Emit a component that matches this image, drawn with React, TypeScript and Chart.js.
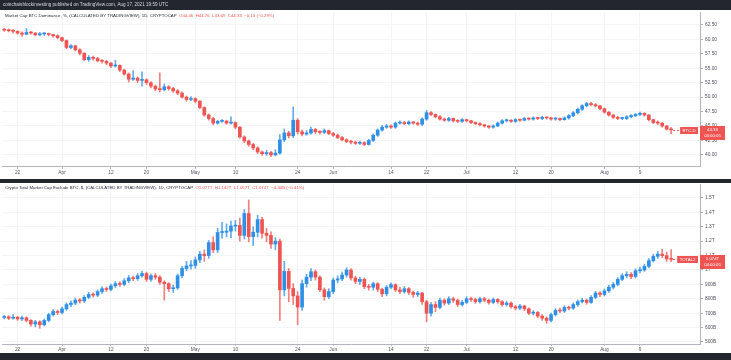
import React, { useEffect, useRef } from "react";
import { Chart, registerables } from "chart.js";
Chart.register(...registerables);

// ---------- categories (daily candles) ----------
const START_YEAR = 2021;
const START_MONTH = 2; // March (0-based)
const START_DAY = 19;
const DAY_COUNT = 157;
const CATEGORIES: string[] = Array.from({ length: DAY_COUNT }, (_, i) =>
  new Date(Date.UTC(START_YEAR, START_MONTH, START_DAY + i)).toISOString().slice(0, 10)
);
const TICK_INDEX = [3, 13, 24, 32, 43, 52, 66, 74, 87, 95, 104, 115, 123, 135, 143];
const TICK_TEXT = ["22", "Apr", "12", "20", "May", "10", "24", "Jun", "14", "22", "Jul", "12", "20", "Aug", "9"];

// ---------- Market Cap BTC Dominance, % ----------
const BTC_OPEN = [
  61.7, 61.6, 61.5, 61.4, 61.1, 60.9, 61.2, 61.1, 60.8, 60.95,
  61.0, 60.85, 60.65, 60.3, 59.8, 58.6, 58.9, 58.2, 57.6, 56.5,
  56.9, 56.7, 56.3, 56.2, 55.9, 55.4, 55.5, 54.7, 54.0, 53.1,
  53.3, 52.9, 53.0, 52.5, 51.9, 51.4, 51.3, 51.8, 51.5, 51.1,
  50.7, 50.0, 49.6, 49.75, 49.3, 48.2, 46.9, 46.3, 45.5, 45.8,
  45.85, 45.5, 45.6, 44.8, 43.1, 42.4, 41.8, 41.2, 40.5, 40.2,
  40.4, 40.0, 40.3, 42.6, 43.8, 43.3, 46.0, 44.0, 43.6, 43.8,
  44.4, 44.0, 43.9, 44.2, 43.7, 43.4, 43.0, 42.6, 42.3, 42.2,
  42.0, 42.1, 41.8, 42.5, 43.4, 44.3, 44.8, 45.0, 44.8, 45.5,
  45.6, 45.4, 45.7, 45.5, 45.3, 46.2, 47.3, 47.0, 46.6, 46.2,
  46.0, 46.3, 45.9, 45.8, 46.1, 45.9, 45.6, 45.4, 45.2, 45.0,
  44.8, 45.0, 45.5, 45.9, 46.0, 45.8, 46.1, 46.0, 46.3, 46.2,
  46.4, 46.3, 46.5, 46.4, 46.2, 46.3, 46.1, 46.4, 46.8, 47.3,
  47.9, 48.5, 48.9, 48.7, 48.5, 48.0, 47.4, 46.9, 46.5, 46.3,
  46.3, 46.6, 46.8, 47.0, 47.2, 46.9, 46.1, 45.6, 45.5, 45.0,
  44.46,
];
const BTC_HIGH = [
  61.9, 61.8, 61.7, 61.5, 61.3, 61.9, 61.4, 61.2, 61.2, 61.2,
  61.1, 60.9, 60.8, 60.4, 59.9, 59.1, 59.0, 58.4, 57.7, 57.2,
  57.1, 56.9, 56.5, 56.4, 56.0, 56.4, 55.6, 54.8, 54.2, 54.6,
  53.5, 54.4, 53.2, 52.7, 52.1, 54.2, 52.3, 52.0, 51.7, 51.3,
  50.9, 50.2, 50.1, 49.9, 49.4, 48.3, 47.1, 46.5, 46.0, 46.1,
  46.0, 46.6, 45.7, 44.9, 43.3, 42.6, 42.0, 41.4, 40.7, 40.8,
  40.6, 40.9, 43.5, 44.5, 44.1, 48.3, 46.3, 44.3, 44.2, 44.8,
  44.6, 44.2, 44.5, 44.3, 43.9, 43.6, 43.2, 42.8, 42.5, 42.4,
  42.4, 42.3, 42.7, 43.6, 44.5, 45.1, 45.3, 45.2, 45.7, 45.9,
  45.8, 45.9, 45.8, 45.7, 46.4, 47.7, 47.5, 47.1, 46.8, 46.4,
  46.5, 46.4, 46.1, 46.3, 46.2, 46.0, 45.7, 45.6, 45.3, 45.1,
  45.2, 45.7, 46.1, 46.2, 46.1, 46.3, 46.2, 46.5, 46.4, 46.6,
  46.5, 46.7, 46.6, 46.5, 46.5, 46.4, 46.6, 47.0, 47.5, 48.1,
  48.7, 49.1, 49.1, 48.9, 48.6, 48.1, 47.5, 47.0, 46.7, 46.5,
  46.8, 47.0, 47.2, 47.4, 47.3, 47.0, 46.2, 45.9, 45.6, 45.1,
  44.76,
];
const BTC_LOW = [
  61.4, 61.3, 61.1, 60.9, 60.5, 60.8, 60.9, 60.6, 60.6, 60.7,
  60.6, 60.4, 60.1, 59.6, 58.4, 58.4, 58.0, 57.3, 56.3, 56.2,
  56.4, 56.1, 55.9, 55.6, 55.1, 55.2, 54.4, 53.8, 52.6, 52.9,
  52.5, 51.9, 52.2, 51.6, 51.1, 50.9, 51.1, 51.2, 50.8, 50.4,
  49.8, 49.3, 49.4, 49.0, 48.0, 46.7, 46.0, 45.2, 45.3, 45.6,
  45.3, 45.3, 44.5, 42.9, 42.1, 41.5, 40.9, 40.2, 39.9, 39.9,
  39.7, 39.8, 40.1, 42.3, 42.9, 43.0, 43.6, 43.3, 43.4, 43.6,
  43.7, 43.6, 43.7, 43.5, 43.2, 42.8, 42.4, 42.1, 41.9, 41.8,
  41.8, 41.6, 41.7, 42.3, 43.2, 44.1, 44.6, 44.6, 44.6, 45.3,
  45.2, 45.2, 45.3, 45.1, 45.1, 46.0, 46.8, 46.4, 46.0, 45.8,
  45.8, 45.7, 45.6, 45.6, 45.7, 45.4, 45.2, 45.0, 44.8, 44.6,
  44.6, 44.9, 45.3, 45.7, 45.6, 45.6, 45.8, 45.9, 46.0, 46.0,
  46.1, 46.1, 46.2, 46.0, 46.0, 45.9, 46.0, 46.2, 46.6, 47.1,
  47.7, 48.3, 48.5, 48.3, 47.8, 47.2, 46.7, 46.3, 46.1, 46.1,
  46.1, 46.4, 46.6, 46.8, 46.7, 45.9, 45.4, 45.2, 44.8, 44.3,
  43.69,
];
const BTC_CLOSE = [
  61.6, 61.5, 61.4, 61.1, 60.9, 61.2, 61.1, 60.8, 60.95, 61.0,
  60.85, 60.65, 60.3, 59.8, 58.6, 58.9, 58.2, 57.6, 56.5, 56.9,
  56.7, 56.3, 56.2, 55.9, 55.4, 55.5, 54.7, 54.0, 53.1, 53.3,
  52.9, 53.0, 52.5, 51.9, 51.4, 51.3, 51.8, 51.5, 51.1, 50.7,
  50.0, 49.6, 49.75, 49.3, 48.2, 46.9, 46.3, 45.5, 45.8, 45.85,
  45.5, 45.6, 44.8, 43.1, 42.4, 41.8, 41.2, 40.5, 40.2, 40.4,
  40.0, 40.3, 42.6, 43.8, 43.3, 46.0, 44.0, 43.6, 43.8, 44.4,
  44.0, 43.9, 44.2, 43.7, 43.4, 43.0, 42.6, 42.3, 42.2, 42.0,
  42.1, 41.8, 42.5, 43.4, 44.3, 44.8, 45.0, 44.8, 45.5, 45.6,
  45.4, 45.7, 45.5, 45.3, 46.2, 47.3, 47.0, 46.6, 46.2, 46.0,
  46.3, 45.9, 45.8, 46.1, 45.9, 45.6, 45.4, 45.2, 45.0, 44.8,
  45.0, 45.5, 45.9, 46.0, 45.8, 46.1, 46.0, 46.3, 46.2, 46.4,
  46.3, 46.5, 46.4, 46.2, 46.3, 46.1, 46.4, 46.8, 47.3, 47.9,
  48.5, 48.9, 48.7, 48.5, 48.0, 47.4, 46.9, 46.5, 46.3, 46.3,
  46.6, 46.8, 47.0, 47.2, 46.9, 46.1, 45.6, 45.5, 45.0, 44.46,
  44.33,
];

// ---------- Crypto Total Market Cap Excluding BTC, $ (billions) ----------
const ALT_OPEN = [
  670, 675, 665, 672, 660, 668, 650, 625, 640, 620,
  650, 690, 712, 705, 730, 760, 770, 790, 785, 810,
  830, 825, 850, 870, 865, 890, 905, 900, 925, 945,
  940, 960, 975, 935, 960, 950, 915, 905, 870, 875,
  960, 1010, 1028, 1032, 1070, 1110, 1100, 1190, 1140, 1260,
  1262, 1270, 1305, 1310, 1240, 1392, 1232, 1262, 1350, 1255,
  1240, 1180, 1200, 862, 990, 872, 820, 742, 905, 950,
  988, 950, 862, 815, 850, 930, 938, 965, 1000, 945,
  920, 935, 884, 880, 905, 866, 835, 880, 898, 862,
  850, 870, 845, 830, 840, 780, 700, 760, 740, 790,
  770, 800, 790, 760, 775, 800, 795, 780, 800, 790,
  775, 795, 780, 760, 770, 745, 735, 750, 730, 700,
  705, 680, 665, 650, 690, 720, 715, 740, 735, 760,
  780, 790, 775, 810, 840, 830, 855, 880, 900, 935,
  960, 970, 955, 995, 1000, 1025, 1065, 1095, 1110, 1100,
  1077,
];
const ALT_HIGH = [
  685, 682, 690, 678, 680, 675, 655, 650, 648, 660,
  700, 725, 722, 742, 772, 785, 805, 802, 822, 845,
  842, 862, 885, 882, 902, 920, 918, 940, 962, 958,
  975, 992, 985, 972, 975, 960, 925, 912, 895, 972,
  1025, 1060, 1065, 1090, 1130, 1140, 1205, 1230, 1290, 1330,
  1320, 1340, 1345, 1360, 1420, 1486, 1300, 1380, 1365, 1290,
  1265, 1225, 1215, 1060, 1010, 905, 850, 930, 970, 1010,
  1000, 960, 875, 870, 945, 960, 985, 1015, 1010, 958,
  950, 945, 900, 915, 912, 875, 892, 910, 905, 880,
  885, 878, 855, 852, 845, 790, 775, 780, 805, 800,
  815, 812, 798, 790, 815, 812, 805, 812, 810, 798,
  806, 802, 788, 782, 778, 755, 762, 756, 738, 718,
  712, 690, 675, 700, 732, 735, 752, 750, 772, 792,
  805, 798, 822, 852, 850, 868, 895, 915, 948, 975,
  988, 982, 1008, 1020, 1040, 1080, 1110, 1130, 1145, 1125,
  1142,
];
const ALT_LOW = [
  660, 655, 658, 650, 648, 640, 610, 605, 595, 612,
  640, 680, 690, 695, 720, 745, 758, 770, 775, 800,
  812, 815, 838, 850, 855, 878, 885, 890, 912, 925,
  928, 950, 920, 920, 935, 900, 790, 850, 845, 865,
  945, 995, 1005, 1010, 1050, 1060, 1080, 1120, 1120, 1220,
  1230, 1225, 1270, 1200, 1215, 1195, 1170, 1230, 1220, 1195,
  1150, 1140, 650, 820, 780, 760, 620, 720, 880, 925,
  930, 850, 790, 800, 835, 910, 925, 950, 930, 905,
  900, 870, 860, 860, 850, 815, 820, 870, 850, 835,
  838, 830, 810, 815, 760, 640, 680, 710, 730, 755,
  760, 775, 745, 748, 765, 782, 768, 770, 778, 762,
  765, 768, 748, 750, 735, 722, 725, 718, 690, 688,
  668, 650, 628, 640, 680, 702, 705, 722, 726, 748,
  770, 762, 768, 800, 815, 820, 845, 868, 890, 925,
  945, 940, 945, 980, 990, 1015, 1055, 1080, 1085, 1060,
  1057,
];
const ALT_CLOSE = [
  675, 665, 672, 660, 668, 650, 625, 640, 620, 650,
  690, 712, 705, 730, 760, 770, 790, 785, 810, 830,
  825, 850, 870, 865, 890, 905, 900, 925, 945, 940,
  960, 975, 935, 960, 950, 915, 905, 870, 875, 960,
  1010, 1028, 1032, 1070, 1110, 1100, 1190, 1140, 1260, 1262,
  1270, 1305, 1310, 1240, 1392, 1232, 1262, 1350, 1255, 1240,
  1180, 1200, 862, 990, 872, 820, 742, 905, 950, 988,
  950, 862, 815, 850, 930, 938, 965, 1000, 945, 920,
  935, 884, 880, 905, 866, 835, 880, 898, 862, 850,
  870, 845, 830, 840, 780, 700, 760, 740, 790, 770,
  800, 790, 760, 775, 800, 795, 780, 800, 790, 775,
  795, 780, 760, 770, 745, 735, 750, 730, 700, 705,
  680, 665, 650, 690, 720, 715, 740, 735, 760, 780,
  790, 775, 810, 840, 830, 855, 880, 900, 935, 960,
  970, 955, 995, 1000, 1025, 1065, 1095, 1110, 1100, 1077,
  1074,
];

// ---------- texts ----------
const STRIP_TEXT = "coinchainblockinvesting published on TradingView.com, Aug 17, 2021 19:59 UTC";
const BTC_HEADER = "Market Cap BTC Dominance, %, (CALCULATED BY TRADINGVIEW), 1D, CRYPTOCAP  ";
const BTC_VALUES = "O44.46  H44.76  L43.69  C44.33  \u22120.13 (\u22120.29%)";
const ALT_HEADER = "Crypto Total Market Cap Exclude BTC, $, (CALCULATED BY TRADINGVIEW), 1D, CRYPTOCAP  ";
const ALT_VALUES = "O1.077T  H1.142T  L1.057T  C1.074T  \u22124.44B (\u22120.41%)";

const FONT = "'Liberation Sans', Arial, sans-serif";
const UP = "#2f8fe6";
const DOWN = "#ee5451";
const DARK = "#23262c";
const GRID = "#f4f5f8";
const AXIS = "#b2b5be";
const TXT = "#50535e";

type PanelSpec = {
  open: number[]; high: number[]; low: number[]; close: number[];
  yMin: number; yMax: number; step: number; fmt: (v: number) => string;
  padTop: number; padBottom: number; xAxisH: number; tickLen: number;
  dark: number[][]; strip?: string; headerY: number; header: string; values: string;
  symbol: string; lastLabel: string;
};

function makeConfig(p: PanelSpec): any {
  const colors = p.open.map((o, i) => (p.close[i] >= o ? UP : DOWN));
  const wickColors = p.open.map((o, i) => (p.close[i] >= o ? "rgba(47,143,230,0.75)" : "rgba(238,84,81,0.75)"));
  const decor = {
    id: "decor",
    beforeDraw(chart: any) {
      const { ctx, width, height } = chart;
      ctx.save();
      ctx.fillStyle = "#ffffff";
      ctx.fillRect(0, 0, width, height);
      ctx.fillStyle = DARK;
      for (const r of p.dark) ctx.fillRect(r[0], r[1], r[2], r[3]);
      ctx.restore();
    },
    afterDraw(chart: any) {
      const { ctx, chartArea: a } = chart;
      const ys = chart.scales.y;
      const xs = chart.scales.x;
      ctx.save();
      if (p.strip) {
        ctx.font = `4.6px ${FONT}`;
        ctx.textBaseline = "middle";
        ctx.fillStyle = "#d6d8de";
        ctx.fillText(p.strip, 3, 5);
      }
      ctx.font = `4.35px ${FONT}`;
      ctx.textBaseline = "middle";
      let x = a.left + 3;
      ctx.fillStyle = "#2a2e39";
      ctx.fillText(p.header, x, p.headerY);
      x += ctx.measureText(p.header).width;
      ctx.fillStyle = DOWN;
      ctx.fillText(p.values, x, p.headerY);

      const last = p.close.length - 1;
      const py = Math.round(ys.getPixelForValue(p.close[last]));
      const c = p.close[last] >= p.open[last] ? UP : DOWN;
      const lx = xs.getPixelForValue(last);
      ctx.font = `4.3px ${FONT}`;
      const symW = ctx.measureText(p.symbol).width + 5;
      const symX = a.right - symW - 2;
      ctx.strokeStyle = c;
      ctx.lineWidth = 1;
      ctx.setLineDash([2, 2]);
      ctx.beginPath();
      ctx.moveTo(lx + 2, py + 0.5);
      ctx.lineTo(symX, py + 0.5);
      ctx.stroke();
      ctx.setLineDash([]);
      ctx.fillStyle = c;
      ctx.fillRect(symX, py - 3, symW, 7);
      ctx.fillRect(a.right, py - 4, 25, 14);
      ctx.fillStyle = "#ffffff";
      ctx.textAlign = "center";
      ctx.fillText(p.symbol, symX + symW / 2, py + 0.5);
      ctx.fillText(p.lastLabel, a.right + 12.5, py);
      ctx.fillText("04:00:05", a.right + 12.5, py + 6);
      ctx.restore();
    },
  };

  return {
    type: "bar",
    data: {
      labels: CATEGORIES,
      datasets: [
        {
          data: p.low.map((v, i) => [v, p.high[i]]),
          backgroundColor: wickColors,
          barThickness: 1,
          grouped: false,
          order: 2,
        },
        {
          data: p.open.map((v, i) => [v, p.close[i]]),
          backgroundColor: colors,
          barThickness: 3,
          minBarLength: 1,
          grouped: false,
          order: 1,
        },
      ],
    },
    options: {
      responsive: false,
      animation: false,
      events: [],
      layout: { padding: { left: 2, right: 0, top: p.padTop, bottom: p.padBottom } },
      plugins: { legend: { display: false }, tooltip: { enabled: false } },
      scales: {
        x: {
          type: "category",
          offset: true,
          grid: { offset: false, color: GRID, tickColor: AXIS, tickLength: p.tickLen, drawTicks: true },
          border: { color: AXIS },
          ticks: {
            autoSkip: false,
            maxRotation: 0,
            minRotation: 0,
            padding: 1,
            color: TXT,
            font: { size: 4.8, family: FONT },
            callback: (v: number) => TICK_TEXT[TICK_INDEX.indexOf(v)],
          },
          afterBuildTicks: (s: any) => {
            s.ticks = s.ticks.filter((t: any) => TICK_INDEX.includes(t.value));
          },
          afterFit: (s: any) => {
            s.height = p.xAxisH;
            s.paddingLeft = 0;
            s.paddingRight = 0;
          },
        },
        y: {
          type: "linear",
          position: "right",
          min: p.yMin,
          max: p.yMax,
          grid: { color: GRID, tickColor: AXIS, tickLength: 3 },
          border: { color: AXIS },
          ticks: {
            stepSize: p.step,
            includeBounds: false,
            padding: 2,
            color: TXT,
            font: { size: 4.8, family: FONT },
            callback: (v: number) => p.fmt(v),
          },
          afterFit: (s: any) => {
            s.width = 31;
            s.paddingTop = 0;
            s.paddingBottom = 0;
          },
        },
      },
    },
    plugins: [decor],
  };
}

const TOP_PANEL: PanelSpec = {
  open: BTC_OPEN, high: BTC_HIGH, low: BTC_LOW, close: BTC_CLOSE,
  yMin: 38.07, yMax: 64.75, step: 2.5, fmt: (v) => v.toFixed(2),
  padTop: 12, padBottom: 0, xAxisH: 13, tickLen: 3,
  dark: [[0, 0, 731, 10]], strip: STRIP_TEXT, headerY: 16,
  header: BTC_HEADER, values: BTC_VALUES, symbol: "BTC.D", lastLabel: "44.33",
};

const BOTTOM_PANEL: PanelSpec = {
  open: ALT_OPEN, high: ALT_HIGH, low: ALT_LOW, close: ALT_CLOSE,
  yMin: 486, yMax: 1597, step: 100,
  fmt: (v) => (v >= 1000 ? `${+(v / 1000).toFixed(1)}T` : `${v}B`),
  padTop: 5, padBottom: 7, xAxisH: 9, tickLen: 2,
  dark: [[0, 0, 731, 4], [0, 174, 731, 7]], headerY: 9,
  header: ALT_HEADER, values: ALT_VALUES, symbol: "TOTAL2", lastLabel: "1.074T",
};

function Panel({ top, height, spec }: { top: number; height: number; spec: PanelSpec }) {
  const ref = useRef<HTMLCanvasElement | null>(null);
  useEffect(() => {
    if (!ref.current) return;
    const chart = new Chart(ref.current, makeConfig(spec));
    return () => chart.destroy();
  }, [spec]);
  return (
    <canvas
      ref={ref}
      width={731}
      height={height}
      style={{ position: "absolute", left: 0, top, width: 731, height, display: "block" }}
    />
  );
}

export default function App() {
  return (
    <div
      style={{
        position: "absolute",
        left: 0,
        top: 0,
        width: 731,
        height: 360,
        background: DARK,
        overflow: "hidden",
      }}
    >
      <Panel top={0} height={179} spec={TOP_PANEL} />
      <Panel top={179} height={181} spec={BOTTOM_PANEL} />
    </div>
  );
}
